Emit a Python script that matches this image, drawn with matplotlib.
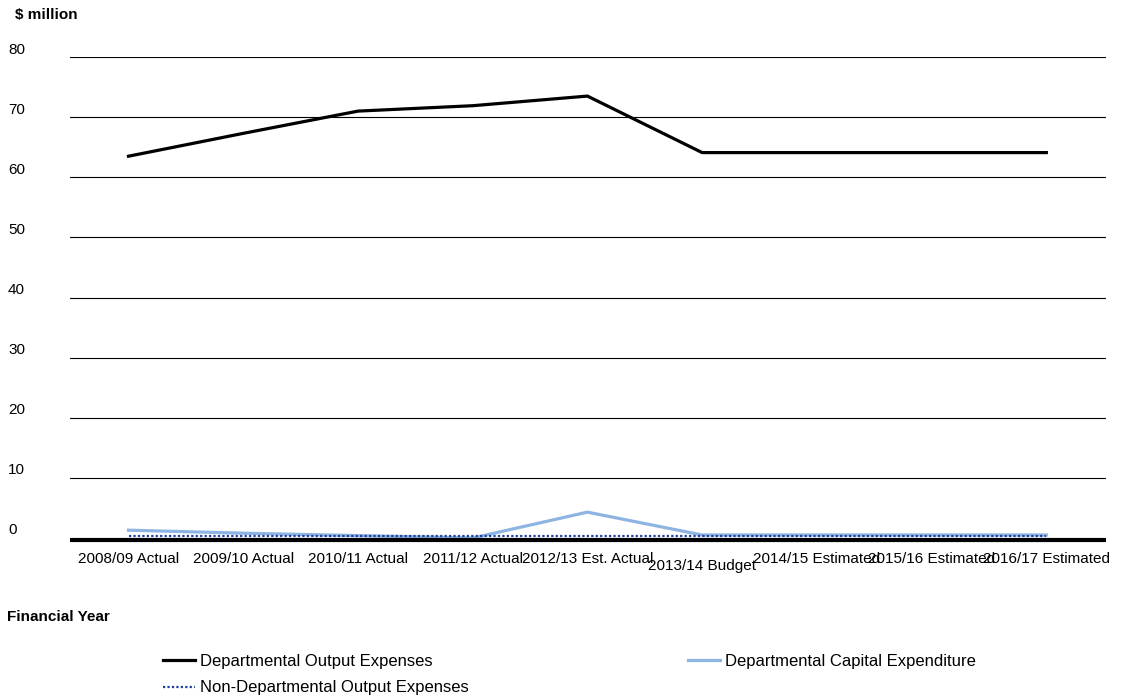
import numpy as np
import matplotlib
matplotlib.use("Agg")
import matplotlib.pyplot as plt
import matplotlib.transforms as mtransforms

plt.rcParams['font.family'] = ['Liberation Sans', 'DejaVu Sans']

# Daten
jahre = ["2008/09 Actual", "2009/10 Actual", "2010/11 Actual", "2011/12 Actual",
         "2012/13 Est. Actual", "2013/14 Budget", "2014/15 Estimated",
         "2015/16 Estimated", "2016/17 Estimated"]
dept_output = [63.5, 67.3, 71.0, 71.9, 73.5, 64.1, 64.1, 64.1, 64.1]
dept_capital = [1.3, 0.8, 0.4, 0.0, 4.3, 0.5, 0.5, 0.5, 0.5]
nondept_output = [0.3, 0.3, 0.3, 0.3, 0.3, 0.3, 0.3, 0.3, 0.3]
yticks = [0, 10, 20, 30, 40, 50, 60, 70, 80]

fig = plt.figure(figsize=(11.22, 6.96), dpi=100)
ax = fig.add_axes([70/1122, 158/696, 1036/1122, 481/696])
x = np.arange(len(jahre))

ax.plot(x, dept_output, color='black', lw=2.3, label='Departmental Output Expenses', zorder=4)
ax.plot(x, nondept_output, color='#1F3F9F', lw=1.6, ls=(0, (1, 1)),
        label='Non-Departmental Output Expenses', zorder=6)
ax.plot(x, dept_capital, color='#8DB4E2', lw=2.3, label='Departmental Capital Expenditure', zorder=2)

ax.set_xlim(-0.51, 8.52)
ax.set_ylim(0, 80)
for y in yticks[1:]:
    ax.axhline(y, color='black', lw=0.8, zorder=1)
# Nulllinie etwas nach unten versetzt, wie im Original
off_0 = mtransforms.ScaledTranslation(0, -2/100, fig.dpi_scale_trans)
ax.plot([0, 1], [0, 0], color='black', lw=3.0, zorder=5, clip_on=False,
        solid_capstyle='butt', transform=ax.get_yaxis_transform() + off_0)

for s in ax.spines.values():
    s.set_visible(False)

ax.set_yticks(yticks)
ax.set_yticklabels([str(v) for v in yticks], fontsize=11)
ax.tick_params(axis='y', length=0, pad=44.6)
off_y = mtransforms.ScaledTranslation(0, 9/100, fig.dpi_scale_trans)
for lbl in ax.get_yticklabels():
    lbl.set_ha('left')
    lbl.set_transform(lbl.get_transform() + off_y)

ax.set_xticks(x)
ax.set_xticklabels(jahre, fontsize=11)
ax.tick_params(axis='x', length=0, pad=10)
off_b = mtransforms.ScaledTranslation(0, -7/100, fig.dpi_scale_trans)
lb = ax.get_xticklabels()[5]
lb.set_transform(lb.get_transform() + off_b)

fig.text(15/1122, 1 - 15/696, r"\$ million", fontsize=11, fontweight='bold', va='center')
fig.text(7/1122, 1 - 617/696, "Financial Year", fontsize=11, fontweight='bold', va='center')

h, l = ax.get_legend_handles_labels()
fig.legend(h, l, ncol=2, frameon=False,
           fontsize=12, loc='upper left', bbox_to_anchor=(163/1122, 1 - 654/696),
           handlelength=1.9, handletextpad=0.3, columnspacing=13.2, labelspacing=0.68,
           borderaxespad=0, borderpad=0)

fig.savefig('out.png', dpi=100)
